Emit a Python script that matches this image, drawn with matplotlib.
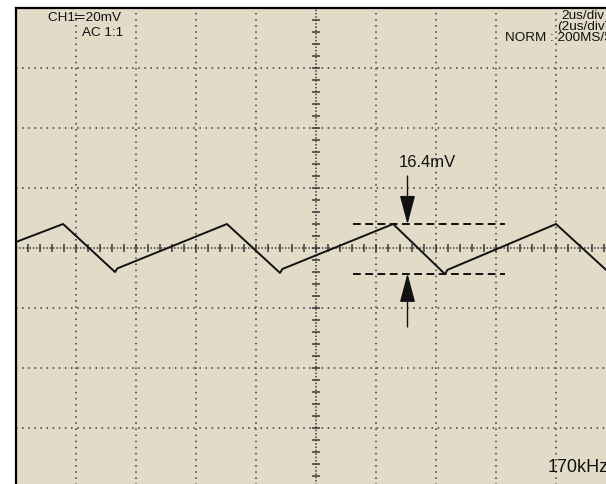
"""
scope_trace.py
Oscilloscope style screen with a triangle ripple trace
"""

import numpy as np
from matplotlib import pyplot as plt

plt.rcParams['font.family'] = ['Liberation Sans', 'DejaVu Sans']

# Colors
SCREEN = '#E2DBC8'
INK = '#111111'
GRID = '#3a3a3a'

# Trace corners: time in us, level in mV
trace_t = [-10.0, -8.43, -6.70, -6.62, -2.97, -1.20, -1.12, 2.57, 4.30, 4.38, 8.00, 9.67]
trace_mv = [2.0, 8.0, -8.0, -6.8, 8.0, -8.3, -7.0, 8.0, -8.7, -7.3, 8.0, -7.3]

# Ripple measurement
ripple_pp = 16.4      # mV
ripple_top = 7.9      # mV
ripple_label = '16.4mV'

# Screen readouts
ch_label = 'CH1\u2550\u200a20mV'
coupling_label = 'AC 1:1'
time_labels = ['2us/div', '(2us/div)', 'NORM : 200MS/S']
freq_label = '170kHz'

US_PER_DIV = 2
MV_PER_DIV = 20
W, H = 606, 485

fig = plt.figure(figsize=(W / 100, H / 100), dpi=100)
fig.patch.set_facecolor('white')

# screen is 10 x 8 divisions of 60 px, top left corner at (16, 9)
ax = fig.add_axes([16 / W, (H - 9 - 480) / H, 600 / W, 480 / H])
ax.set_facecolor(SCREEN)
ax.set_xlim(-5 * US_PER_DIV, 5 * US_PER_DIV)
ax.set_ylim(-4 * MV_PER_DIV, 4 * MV_PER_DIV)

for side in ['right', 'bottom']:
    ax.spines[side].set_visible(False)
for side in ['left', 'top']:
    ax.spines[side].set_linewidth(1.6)
    ax.spines[side].set_color('black')

# dotted division grid
xs = [x for x in np.arange(-10, 11, US_PER_DIV) if x != 0]
ys = [y for y in np.arange(-80, 81, MV_PER_DIV) if y != 0]
ax.set_xticks(xs)
ax.set_yticks(ys)
ax.tick_params(length=0, labelbottom=False, labelleft=False)
ax.grid(True, color=GRID, linestyle=(0, (1, 3)), linewidth=1.1)

# center cross with minor ticks
ax.axvline(0, color=GRID, linestyle=(0, (1, 1.2)), linewidth=1.1, zorder=1)
ax.axhline(0, color=GRID, linestyle=(0, (1, 1.2)), linewidth=1.1, zorder=1)
ax.vlines(np.arange(-10, 10.01, US_PER_DIV / 5), -1.2, 1.2, color=GRID, linewidth=1.1, zorder=1)
ax.hlines(np.arange(-80, 80.01, MV_PER_DIV / 5), -0.12, 0.12, color=GRID, linewidth=1.1, zorder=1)

# trace
ax.plot(trace_t, trace_mv, color=INK, linewidth=1.4, zorder=3)

# ripple markers
ripple_bottom = ripple_top - ripple_pp
for level in [ripple_top, ripple_bottom]:
    ax.plot([1.23, 6.3], [level, level], color=INK, linewidth=1.4,
            dashes=(4, 2.3), zorder=4)

arrow = dict(arrowstyle='-|>,head_length=0.9,head_width=0.24', mutation_scale=20,
             color=INK, linewidth=1.0, shrinkA=0, shrinkB=0)
ax.annotate('', xy=(3.05, ripple_top), xytext=(3.05, 24), arrowprops=arrow, zorder=5)
ax.annotate('', xy=(3.05, ripple_bottom), xytext=(3.05, -26.3), arrowprops=arrow, zorder=5)
ax.text(3.7, 28.7, ripple_label, ha='center', va='center', fontsize=12, color=INK)


def px_text(x, y, s, size, ha='left'):
    """ Place text at pixel position (x, y) from the top left """
    fig.text(x / W, 1 - y / H, s, ha=ha, va='center', fontsize=size, color=INK)


px_text(48, 18, ch_label, 9.7)
px_text(82, 33, coupling_label, 9.7)
px_text(561, 16, time_labels[0], 9.7)
px_text(557, 27, time_labels[1], 9.7)
px_text(505, 38, time_labels[2], 9.7)
px_text(548, 468, freq_label, 13)

fig.savefig('out.png', dpi=100, facecolor=fig.get_facecolor())
